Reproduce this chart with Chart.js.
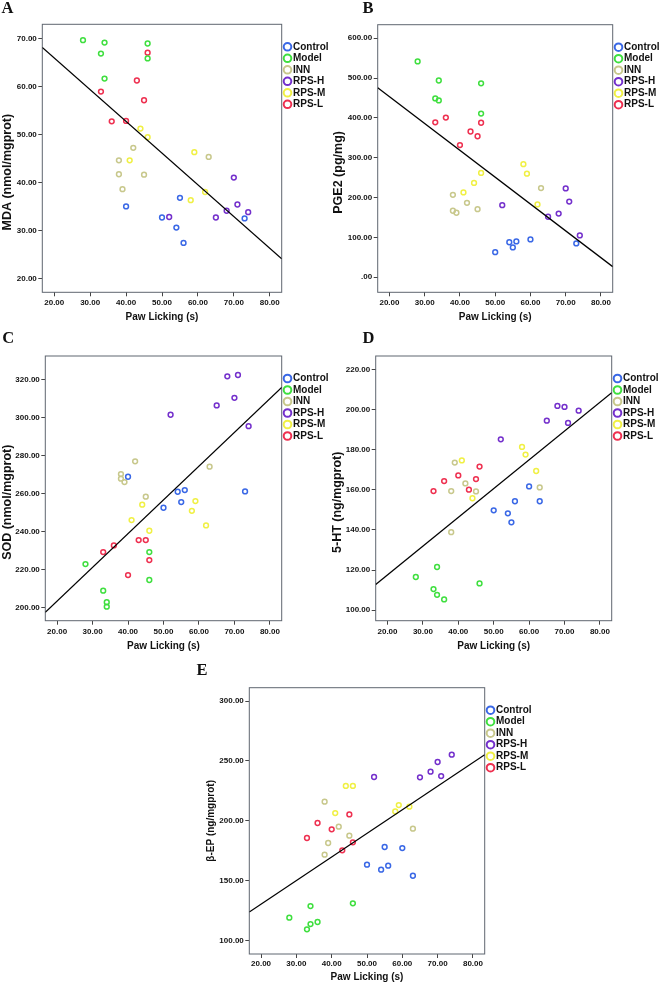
<!DOCTYPE html>
<html><head><meta charset="utf-8">
<script src="https://cdn.jsdelivr.net/npm/chart.js@4.4.1/dist/chart.umd.min.js"></script>
<style>
html,body{margin:0;padding:0;background:#fff;}
#wrap{position:relative;width:661px;height:986px;overflow:hidden;background:#fff;}
canvas{position:absolute;}
.letter{position:absolute;font-family:'Liberation Serif','Times New Roman',serif;font-weight:bold;font-size:16.5px;line-height:16.5px;color:#111;}
</style></head><body>
<div id="wrap">
  <canvas id="cA" width="335" height="330" style="left:0px;top:0px"></canvas>
  <canvas id="cB" width="335" height="330" style="left:330px;top:0px"></canvas>
  <canvas id="cC" width="335" height="335" style="left:0px;top:320px"></canvas>
  <canvas id="cD" width="335" height="335" style="left:330px;top:320px"></canvas>
  <canvas id="cE" width="370" height="336" style="left:170px;top:650px"></canvas>
  <div class="letter" style="left:1.5px;top:0.4px">A</div>
  <div class="letter" style="left:362.4px;top:0.4px">B</div>
  <div class="letter" style="left:2.2px;top:330.4px">C</div>
  <div class="letter" style="left:362.4px;top:330.4px">D</div>
  <div class="letter" style="left:196.5px;top:662.1px">E</div>
</div>
<script>
// ---------- data ----------
const groups = ['Control', 'Model', 'INN', 'RPS-H', 'RPS-M', 'RPS-L'];
const xTicks = [20, 30, 40, 50, 60, 70, 80];
const xRange = [16.67, 83.33];
const xTitle = 'Paw Licking (s)';

// Panel A: MDA
const aX = [[40,50,54,55,56,73],[28,33,34,34,46,46],[38,38,39,42,45,63],[52,65,68,70,71,74],[41,44,46,58,59,62],[33,36,40,43,45,46]];
const aY = [[35.1,32.8,30.7,36.9,27.5,32.6],[69.7,66.9,69.2,61.7,69.0,65.9],[44.7,41.8,38.7,47.3,41.7,45.4],[32.9,32.8,34.2,41.1,35.5,33.9],[44.7,51.3,49.5,36.4,46.4,38.1],[59.0,52.8,52.9,61.3,57.2,67.1]];
const aYTicks = [20, 30, 40, 50, 60, 70];
const aYRange = [17.23, 73.0];
const aFit = [68.2, 24.2];

// Panel B: PGE2
const bX = [[50,54,55,56,60,73],[28,33,34,34,46,46],[38,38,39,42,45,63],[52,65,68,70,71,74],[41,44,46,58,59,62],[33,36,40,43,45,46]];
const bY = [[63,88,75,90,95,85],[542,449,494,444,487,411],[207,167,162,187,171,224],[181,152,160,223,190,105],[213,237,262,284,260,183],[389,401,332,366,354,388]];
const bYTicks = [0, 100, 200, 300, 400, 500, 600];
const bYRange = [-37.7, 634.1];
const bFit = [476, 26.6];

// Panel C: SOD
const cX = [[40,50,54,55,56,73],[28,33,34,34,46,46],[38,38,39,42,45,63],[52,65,68,70,71,74],[41,44,46,58,59,62],[33,36,40,43,45,46]];
const cY = [[269.0,252.7,261.1,255.7,262.0,261.3],[223.1,209.1,203.0,200.7,229.4,214.7],[270.4,268.0,266.2,277.1,258.5,274.3],[301.6,306.5,321.8,310.5,322.5,295.6],[246.2,254.3,240.6,251.1,256.2,243.4],[229.4,232.9,217.3,235.7,235.7,225.2]];
const cYTicks = [200, 220, 240, 260, 280, 300, 320];
const cYRange = [193.3, 332.5];
const cFit = [197.7, 316.0];

// Panel D: 5-HT
const dX = [[50,54,55,56,60,63],[28,33,34,34,36,46],[38,38,39,42,45,63],[52,65,68,70,71,74],[41,44,58,59,62],[33,36,40,43,45,46]];
const dY = [[149.8,148.3,143.8,154.3,161.7,154.3],[116.5,110.5,121.5,107.6,105.3,113.3],[159.4,138.9,173.6,163.2,159.2,161.2],[185.2,194.5,201.9,201.4,193.4,199.5],[174.7,155.8,181.4,177.6,169.4],[159.4,164.4,167.2,160.1,165.4,171.6]];
const dYTicks = [100, 120, 140, 160, 180, 200, 220];
const dYRange = [94.7, 226.8];
const dFit = [112.8, 208.5];

// Panel E: beta-EP
const eX = [[50,54,55,56,60,63],[28,33,34,34,36,46],[38,38,39,42,45,63],[52,65,68,70,71,74],[41,44,46,58,59,62],[33,36,40,43,45,46]];
const eY = [[163.4,159.3,178.2,162.6,177.3,154.2],[119.2,109.5,128.9,113.9,115.6,131.2],[216.0,171.8,181.5,195.1,187.6,193.5],[236.6,236.3,241.0,249.1,237.4,255.2],[206.5,229.1,229.1,207.9,213.2,211.8],[185.7,198.2,192.9,175.4,205.4,182.1]];
const eYTicks = [100, 150, 200, 250, 300];
const eYRange = [88.9, 311.1];
const eFit = [123.9, 255.2];

// ---------- styles ----------
const groupColors = ['#3a68e6', '#3fdf3f', '#c8c88c', '#7430cc', '#f0f044', '#ee3050'];
const FONT = 'Liberation Sans';

const legendShift = {
  id: 'legendShift',
  afterLayout(chart, args, opts) {
    const lg = chart.legend;
    if (!lg) return;
    if (!lg._noClip) {
      lg._noClip = true;
      lg.draw = function () { if (this.options.display) this._draw(); };
    }
    lg.top += opts.dy; lg.bottom += opts.dy;
  }
};
const framePlugin = {
  id: 'frame',
  beforeDatasetsDraw(chart, args, opts) {
    const a = chart.chartArea, c = chart.ctx;
    c.save();
    c.strokeStyle = opts.color;
    c.lineWidth = opts.width;
    c.strokeRect(a.left, a.top, a.right - a.left, a.bottom - a.top);
    c.restore();
  }
};

function fmt(v) {
  const s = Number(v).toFixed(2);
  return s.startsWith('0') ? s.slice(1) : s;
}

function build(id, xs, ys, yTicks, yRange, fit, yTitle, L) {
  const datasets = groups.map((g, i) => ({
    label: g,
    data: xs[i].map((x, j) => ({x: x, y: ys[i][j]})),
    borderColor: groupColors[i],
    backgroundColor: 'rgba(0,0,0,0)',
    pointStyle: 'circle',
    pointRadius: 2.4,
    pointBorderWidth: 1.5,
    showLine: false,
    order: 1
  }));
  datasets.push({
    type: 'line',
    label: 'fit',
    data: [{x: xRange[0], y: fit[0]}, {x: xRange[1], y: fit[1]}],
    borderColor: '#000',
    borderWidth: 1.3,
    pointRadius: 0,
    fill: false,
    order: 0
  });
  return new Chart(document.getElementById(id), {
    type: 'scatter',
    data: {datasets},
    plugins: [legendShift, framePlugin],
    options: {
      responsive: false,
      animation: false,
      events: [],
      layout: {padding: {left: 0, top: L.padT, right: L.padR, bottom: L.padB}},
      scales: {
        x: {
          type: 'linear', min: xRange[0], max: xRange[1],
          afterBuildTicks: s => { s.ticks = xTicks.map(v => ({value: v})); },
          afterFit: s => { s.height = L.xH; },
          grid: {display: true, drawOnChartArea: false, drawTicks: true, tickLength: 4, color: '#444', lineWidth: 1},
          border: {display: false},
          ticks: {font: {family: FONT, size: 8, weight: 'bold'}, color: '#111', padding: L.tpx, maxRotation: 0, autoSkip: false, callback: v => fmt(v)},
          title: {display: true, text: xTitle, font: {family: FONT, size: 10, weight: 'bold', lineHeight: 1.2}, color: '#111', padding: 0}
        },
        y: {
          type: 'linear', min: yRange[0], max: yRange[1],
          afterBuildTicks: s => { s.ticks = yTicks.map(v => ({value: v})); },
          afterFit: s => { s.width = L.yW; },
          grid: {display: true, drawOnChartArea: false, drawTicks: true, tickLength: 4, color: '#444', lineWidth: 1},
          border: {display: false},
          ticks: {font: {family: FONT, size: 8, weight: 'bold'}, color: '#111', padding: 1.5, autoSkip: false, callback: v => fmt(v)},
          title: {display: true, text: yTitle + ' '.repeat(L.sp), font: {family: FONT, size: L.ytSize, weight: 'bold', lineHeight: 1.2}, color: '#111', padding: {top: L.ytPad, bottom: 0}}
        },
        gap: {
          type: 'linear', position: 'right', display: true,
          afterFit: s => { s.width = 3.8; },
          grid: {display: false}, border: {display: false},
          ticks: {display: false}, title: {display: false}
        }
      },
      plugins: {
        legend: {
          display: true, position: 'right', align: 'start', fullSize: false, maxWidth: 45,
          labels: {
            usePointStyle: true, boxWidth: 1, boxHeight: 5.4, padding: 1.5,
            font: {family: FONT, size: 10, weight: 'bold'}, color: '#111',
            filter: item => item.text !== 'fit',
            generateLabels: chart => Chart.defaults.plugins.legend.labels.generateLabels(chart)
              .map(l => Object.assign(l, {lineWidth: 2, fillStyle: 'rgba(0,0,0,0)'}))
          }
        },
        tooltip: {enabled: false},
        legendShift: {dy: 16},
        frame: {color: '#5f6670', width: 1}
      }
    }
  });
}

build('cA', aX, aY, aYTicks, aYRange, aFit, 'MDA (nmol/mgprot)',
  {padT: 24.3, padR: 4.5, padB: 6.3, yW: 42.3, xH: 31.4, tpx: 1.2, ytSize: 12.5, ytPad: 0, sp: 8});
build('cB', bX, bY, bYTicks, bYRange, bFit, 'PGE2 (pg/mg)',
  {padT: 24.7, padR: 3.5, padB: 6.3, yW: 47.7, xH: 31.4, tpx: 1.2, ytSize: 12.5, ytPad: 1.2, sp: 8});
build('cC', cX, cY, cYTicks, cYRange, cFit, 'SOD (nmol/mgprot)',
  {padT: 36, padR: 4.5, padB: 2.9, yW: 45.3, xH: 31.4, tpx: 2, ytSize: 12.5, ytPad: 0.5, sp: 8});
build('cD', dX, dY, dYTicks, dYRange, dFit, '5-HT (ng/mgprot)',
  {padT: 36, padR: 4.5, padB: 2.9, yW: 45.7, xH: 31.4, tpx: 2, ytSize: 12.5, ytPad: 0.5, sp: 8});
build('cE', eX, eY, eYTicks, eYRange, eFit, 'β-EP (ng/mgprot)',
  {padT: 37.7, padR: 6.5, padB: 2.3, yW: 79.3, xH: 29.7, tpx: 0.8, ytSize: 10, ytPad: 35.3, sp: 0});
</script>
</body></html>
